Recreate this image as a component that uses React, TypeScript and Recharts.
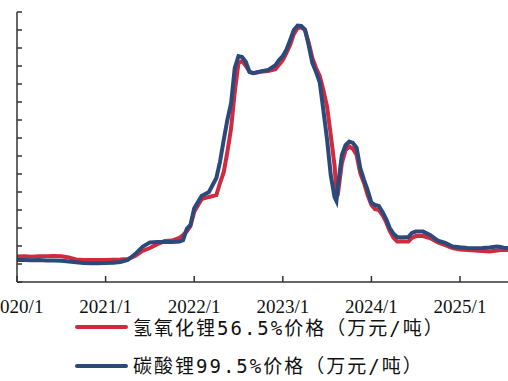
import React from "react";
import { LineChart, Line, XAxis, YAxis, Legend } from "recharts";

const dates = [
  "2020-01-01", "2020-02-01", "2020-03-01", "2020-04-01", "2020-05-01", "2020-06-01",
  "2020-07-01", "2020-08-01", "2020-09-01", "2020-10-01", "2020-11-01", "2020-12-01",
  "2021-01-01", "2021-02-01", "2021-03-01", "2021-04-01", "2021-05-01", "2021-06-01",
  "2021-07-01", "2021-08-01", "2021-09-01", "2021-10-01", "2021-11-01", "2021-11-16",
  "2021-12-01", "2021-12-16", "2022-01-01", "2022-02-01", "2022-03-01", "2022-04-01",
  "2022-04-16", "2022-05-01", "2022-05-16", "2022-06-01", "2022-06-16", "2022-07-01",
  "2022-07-16", "2022-08-01", "2022-08-16", "2022-09-01", "2022-10-01", "2022-11-01",
  "2022-12-01", "2022-12-16", "2023-01-01", "2023-01-16", "2023-02-01", "2023-02-16",
  "2023-03-01", "2023-03-16", "2023-04-01", "2023-04-16", "2023-05-01", "2023-05-16",
  "2023-06-01", "2023-06-16", "2023-07-01", "2023-07-16", "2023-08-01", "2023-08-09",
  "2023-08-16", "2023-09-01", "2023-09-16", "2023-10-01", "2023-10-16", "2023-11-01",
  "2023-11-16", "2023-12-01", "2023-12-16", "2024-01-01", "2024-01-16", "2024-02-01",
  "2024-02-16", "2024-03-01", "2024-03-16", "2024-04-01", "2024-04-16", "2024-05-01",
  "2024-06-01", "2024-06-16", "2024-07-01", "2024-08-01", "2024-09-01", "2024-10-01",
  "2024-11-01", "2024-12-01", "2025-01-01", "2025-02-01", "2025-03-01", "2025-04-01",
  "2025-05-01", "2025-06-01", "2025-06-16", "2025-07-01", "2025-07-16",
];

// 氢氧化锂56.5%价格（万元/吨）
const hydroxide = [
  5.67, 5.7, 5.6, 5.7, 5.75, 5.8,
  5.7, 5.45, 5.0, 4.9, 4.9, 4.9,
  4.9, 4.95, 5.0, 5.1, 5.8, 6.9,
  7.55, 8.4, 9.1, 9.2, 9.8, 10.4,
  11.3, 12.4, 15.6, 18.4, 18.9, 19.3,
  22.0, 24.4, 28.9, 34.2, 42.2, 48.7,
  49.1, 48.0, 46.7, 46.4, 46.7, 46.9,
  47.3, 48.3, 49.3, 50.9, 52.7, 55.1,
  56.4, 56.6, 56.0, 53.3, 49.8, 47.6,
  45.8, 42.7, 38.9, 32.7, 26.0, 20.4,
  20.0, 26.4, 29.3, 30.1, 29.6, 28.2,
  24.2, 22.0, 19.3, 17.1, 16.2, 16.0,
  14.9, 13.3, 11.3, 9.8, 9.0, 9.0,
  9.0, 9.8, 10.2, 10.2, 9.7, 8.8,
  8.2, 7.55, 7.2, 7.1, 7.0, 6.9,
  6.8, 7.0, 7.1, 7.1, 7.1,
];

// 碳酸锂99.5%价格（万元/吨）
const carbonate = [
  4.9, 4.9, 4.85, 4.9, 4.8, 4.8,
  4.7, 4.55, 4.4, 4.2, 4.15, 4.15,
  4.2, 4.3, 4.45, 4.9, 6.2, 7.8,
  8.8, 8.9, 8.9, 8.9, 9.0, 9.3,
  11.8, 12.7, 16.4, 19.1, 20.0, 23.1,
  26.7, 31.6, 36.0, 39.8, 47.6, 50.2,
  50.0, 48.9, 46.7, 46.4, 46.8, 47.1,
  48.2, 49.3, 50.2, 51.6, 53.8, 56.0,
  57.0, 56.9, 56.1, 52.7, 48.7, 46.7,
  44.4, 38.2, 31.6, 23.8, 18.9, 18.0,
  21.6, 28.2, 30.4, 31.2, 30.9, 29.8,
  25.3, 22.7, 20.4, 17.6, 17.1, 16.9,
  15.6, 14.0, 12.0, 10.7, 10.0, 9.9,
  10.0, 10.9, 11.2, 11.2, 10.4, 9.2,
  8.7, 7.9, 7.7, 7.55, 7.5, 7.55,
  7.65, 7.9, 7.8, 7.55, 7.55,
];

const xTickLabels = ["2020/1", "2021/1", "2022/1", "2023/1", "2024/1", "2025/1"];
const yTicks = [0, 4, 8, 12, 16, 20, 24, 28, 32, 36, 40, 44, 48, 52, 56, 60];

const seriesNames = {
  hydroxide: "氢氧化锂56.5%价格（万元/吨）",
  carbonate: "碳酸锂99.5%价格（万元/吨）",
};

const RED = "#d1293d";
const BLUE = "#2b4a7c";

function toMonthIndex(s: string): number {
  const parts = s.split(/[-/]/).map(Number);
  const y = parts[0];
  const m = parts[1];
  const d = parts[2] ?? 1;
  return (y - 2020) * 12 + (m - 1) + (d - 1) / 30.5;
}

const data = dates.map((d, i) => ({
  t: toMonthIndex(d),
  hydroxide: hydroxide[i],
  carbonate: carbonate[i],
}));

const xTicks = xTickLabels.map((l) => toMonthIndex(l));
const labelFor = (v: number) => {
  const idx = xTicks.findIndex((t) => Math.abs(t - v) < 0.01);
  return idx >= 0 ? xTickLabels[idx] : "";
};

const legendItems = [
  { key: "hydroxide", color: RED, label: seriesNames.hydroxide },
  { key: "carbonate", color: BLUE, label: seriesNames.carbonate },
];

function renderLabel(label: string) {
  // half-width runs rendered in a monospace face (as in the original)
  const parts = label.split(/([0-9.%/]+)/);
  return parts.map((p, i) =>
    /^[0-9.%/]+$/.test(p) ? (
      <span key={i} style={{ fontFamily: "'DejaVu Sans Mono', monospace" }}>{p}</span>
    ) : (
      <span key={i}>{p}</span>
    )
  );
}

const LegendContent = () => (
  <div style={{ display: "flex", flexDirection: "column" }}>
    {legendItems.map((it) => (
      <div
        key={it.key}
        style={{ display: "flex", alignItems: "center", height: 38.5, whiteSpace: "nowrap" }}
      >
        <div
          style={{
            width: 53,
            height: 4,
            borderRadius: 2,
            background: it.color,
            marginRight: 5,
          }}
        />
        <span
          style={{
            fontFamily: "'Noto Sans CJK SC', sans-serif",
            fontSize: 19,
            letterSpacing: 2,
            color: "#111",
            lineHeight: "20px",
          }}
        >
          {renderLabel(it.label)}
        </span>
      </div>
    ))}
  </div>
);

export default function App() {
  return (
    <div style={{ position: "absolute", left: 0, top: 0, width: 508, height: 381, background: "#fff" }}>
      <LineChart
        width={508}
        height={381}
        data={data}
        margin={{ top: 12, right: 0, bottom: 69, left: 0 }}
      >
        <XAxis
          dataKey="t"
          type="number"
          domain={[0, 66.5]}
          allowDataOverflow
          ticks={xTicks}
          interval={0}
          tickFormatter={labelFor}
          height={30}
          tickSize={-6}
          tickMargin={24}
          stroke="#333"
          strokeWidth={1.5}
          tick={{ fontFamily: "'Liberation Serif', 'Times New Roman', serif", fontSize: 19, fill: "#111" }}
        />
        <YAxis
          type="number"
          domain={[0, 60]}
          ticks={yTicks}
          interval={0}
          width={17}
          tickSize={-5}
          tickFormatter={() => ""}
          stroke="#333"
          strokeWidth={1.5}
        />
        <Legend
          layout="vertical"
          align="center"
          verticalAlign="middle"
          content={<LegendContent />}
          wrapperStyle={{ position: "absolute", left: 75, top: 308, width: "auto", height: "auto" }}
        />
        <Line
          type="linear"
          dataKey="hydroxide"
          name={seriesNames.hydroxide}
          stroke={RED}
          strokeWidth={4}
          dot={false}
          isAnimationActive={false}
        />
        <Line
          type="linear"
          dataKey="carbonate"
          name={seriesNames.carbonate}
          stroke={BLUE}
          strokeWidth={4}
          dot={false}
          isAnimationActive={false}
        />
      </LineChart>
    </div>
  );
}
